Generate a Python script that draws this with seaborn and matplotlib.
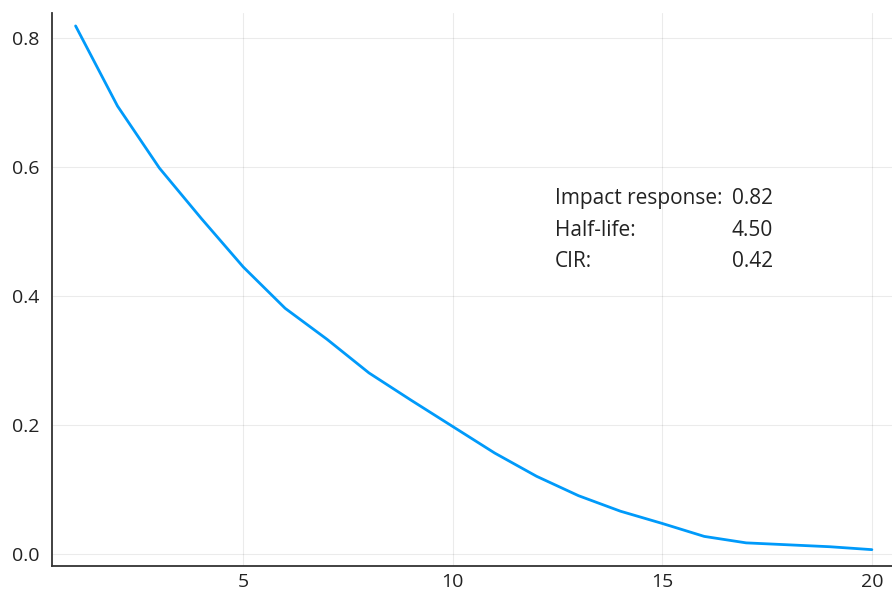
import matplotlib
matplotlib.use("Agg")
import matplotlib.pyplot as plt
import seaborn as sns
import pandas as pd

# Impulse response over horizons 1..20
horizon = list(range(1, 21))
response = [0.818, 0.694, 0.598, 0.520, 0.445, 0.381, 0.333, 0.281, 0.239, 0.198,
            0.157, 0.121, 0.091, 0.067, 0.048, 0.028, 0.018, 0.015, 0.012, 0.0075]

stat_labels = ["Impact response:", "Half-life:", "CIR:"]
stat_values = ["0.82", "4.50", "0.42"]

sns.set_style("white")
plt.rcParams["font.family"] = ["Open Sans", "DejaVu Sans"]

df = pd.DataFrame({"horizon": horizon, "response": response})

fig = plt.figure(figsize=(8.92, 5.90), dpi=100)
ax = fig.add_axes([52 / 892, 1 - 566 / 590, 1 - 52 / 892, (566 - 13) / 590])

sns.lineplot(data=df, x="horizon", y="response", ax=ax, color="#009AFA",
             linewidth=2.0, legend=False)

ax.set_xlim(0.437, 20.48)
ax.set_ylim(-0.0178, 0.838)
ax.set_xticks([5, 10, 15, 20])
ax.set_yticks([0.0, 0.2, 0.4, 0.6, 0.8])
ax.set_yticklabels(["0.0", "0.2", "0.4", "0.6", "0.8"])
ax.set_xlabel("")
ax.set_ylabel("")

ax.grid(True, color="#000000", alpha=0.08, linewidth=0.8)
for side in ["top", "right"]:
    ax.spines[side].set_visible(False)
for side in ["left", "bottom"]:
    ax.spines[side].set_color("#333333")
    ax.spines[side].set_linewidth(1.3)

ax.tick_params(axis="x", direction="in", length=4, width=1, color="#333333",
               labelsize=14, labelcolor="#222222", pad=5)
ax.tick_params(axis="y", direction="out", length=4, width=1, color="#333333",
               labelsize=14, labelcolor="#222222", pad=5)

rows_y = [0.5426, 0.493, 0.445]
for lab, val, yy in zip(stat_labels, stat_values, rows_y):
    ax.text(12.44, yy, lab, ha="left", va="baseline", fontsize=15, color="#222222")
    ax.text(17.64, yy, val, ha="right", va="baseline", fontsize=15, color="#222222")

fig.savefig("out.png", dpi=100)
